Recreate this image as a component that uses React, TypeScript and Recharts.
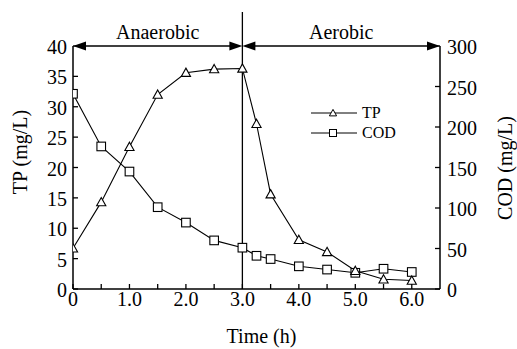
import { ComposedChart, Line, XAxis, YAxis, ReferenceLine, Legend } from "recharts";

const FONT = '"Liberation Serif", Times, "DejaVu Serif", serif';

// time (h)
const times = [0, 0.5, 1, 1.5, 2, 2.5, 3, 3.25, 3.5, 4, 4.5, 5, 5.5, 6];
// TP (mg/L), left axis
const tpValues = [6.7, 14.3, 23.4, 32.0, 35.6, 36.2, 36.3, 27.2, 15.6, 8.1, 6.1, 3.0, 1.6, 1.4];
// COD (mg/L), right axis
const codValues = [241, 176, 145, 101, 82, 60, 51, 41, 37, 28, 24, 20, 25, 21];

const xTicks = [0, 0.5, 1, 1.5, 2, 2.5, 3, 3.5, 4, 4.5, 5, 5.5, 6];
const tpTicks = [0, 5, 10, 15, 20, 25, 30, 35, 40];
const codTicks = [0, 50, 100, 150, 200, 250, 300];

const phases = [
  { name: "Anaerobic", from: 0, to: 3 },
  { name: "Aerobic", from: 3, to: 6.5 },
];

const data = times.map((t, i) => ({ t, tp: tpValues[i], cod: codValues[i] }));

const txt = { fontFamily: FONT, fontSize: 20, fill: "#000" };

const triPath = (cx: number, cy: number, r: number) =>
  `M${cx},${cy - r} L${cx + r},${cy + r * 0.8} L${cx - r},${cy + r * 0.8} Z`;

const TriDot = (props: any) => (
  <path key={`tp-${props.index}`} d={triPath(props.cx, props.cy, 4.6)} fill="#fff" stroke="#000" strokeWidth={1.1} />
);

const SqDot = (props: any) => (
  <rect key={`cod-${props.index}`} x={props.cx - 4.3} y={props.cy - 4.3} width={8.6} height={8.6} fill="#fff" stroke="#000" strokeWidth={1.1} />
);

const XTick = ({ x, y, payload }: any) => {
  const v = payload.value;
  const whole = Math.abs(v - Math.round(v)) < 1e-6;
  return (
    <g>
      <line x1={x} y1={y} x2={x} y2={y - 5} stroke="#000" strokeWidth={1.3} />
      {whole && (
        <text x={x} y={y + 17} textAnchor="middle" style={txt}>
          {v === 0 ? "0" : v.toFixed(1)}
        </text>
      )}
    </g>
  );
};

const LeftTick = ({ x, y, payload }: any) => (
  <g>
    <line x1={x} y1={y} x2={x + 5} y2={y} stroke="#000" strokeWidth={1.3} />
    <text x={x - 6} y={y + 8} textAnchor="end" style={txt}>
      {payload.value}
    </text>
  </g>
);

const RightTick = ({ x, y, payload }: any) => (
  <g>
    <line x1={x} y1={y} x2={x - 5} y2={y} stroke="#000" strokeWidth={1.3} />
    <text x={x + 7} y={y + 8} textAnchor="start" style={txt}>
      {payload.value}
    </text>
  </g>
);

const phaseArrow = (label: string) => (props: any) => {
  const { x1, y1, x2 } = props;
  const head = 13;
  const half = 4.5;
  return (
    <g>
      <line x1={x1 + head - 1} y1={y1} x2={x2 - head + 1} y2={y1} stroke="#000" strokeWidth={1.5} />
      <path d={`M${x1},${y1} L${x1 + head},${y1 - half} L${x1 + head},${y1 + half} Z`} fill="#000" />
      <path d={`M${x2},${y1} L${x2 - head},${y1 - half} L${x2 - head},${y1 + half} Z`} fill="#000" />
      <text x={(x1 + x2) / 2} y={y1 - 7} textAnchor="middle" style={txt}>
        {label}
      </text>
    </g>
  );
};

const legendItems = [
  { name: "TP", marker: "tri" },
  { name: "COD", marker: "sq" },
];

const renderLegend = () => (
  <div style={{ fontFamily: FONT, fontSize: 16, color: "#000" }}>
    {legendItems.map((item) => (
      <div key={item.name} style={{ display: "flex", alignItems: "center", height: 20 }}>
        <svg width={47} height={20}>
          <line x1={0} y1={10} x2={46} y2={10} stroke="#000" strokeWidth={1} />
          {item.marker === "tri" ? (
            <path d={triPath(22, 10, 3.6)} fill="#fff" stroke="#000" strokeWidth={1} />
          ) : (
            <rect x={18.5} y={6.5} width={7} height={7} fill="#fff" stroke="#000" strokeWidth={1} />
          )}
        </svg>
        <span style={{ marginLeft: 4 }}>{item.name}</span>
      </div>
    ))}
  </div>
);

export default function App() {
  return (
    <div style={{ position: "absolute", left: 0, top: 0, background: "#fff", fontFamily: FONT }}>
      <ComposedChart width={517} height={349} data={data} margin={{ top: 46, right: 0, bottom: 0, left: 0 }}>
        <XAxis
          dataKey="t"
          type="number"
          domain={[0, 6.5]}
          ticks={xTicks}
          allowDataOverflow
          height={60}
          axisLine={{ stroke: "#000", strokeWidth: 1.5 }}
          tickLine={false}
          tickSize={0}
          tickMargin={0}
          tick={<XTick />}
          interval={0}
          label={(p: any) => (
            <text x={p.viewBox.x + p.viewBox.width / 2 + 5} y={p.viewBox.y + 54} textAnchor="middle" style={txt}>
              Time (h)
            </text>
          )}
        />
        <YAxis
          yAxisId="left"
          orientation="left"
          domain={[0, 40]}
          ticks={tpTicks}
          width={73}
          axisLine={{ stroke: "#000", strokeWidth: 1.5 }}
          tickLine={false}
          tickSize={0}
          tickMargin={0}
          tick={<LeftTick />}
          interval={0}
          label={(p: any) => {
            const cx = p.viewBox.x + 20;
            const cy = p.viewBox.y + 106;
            return (
              <text x={cx} y={cy} transform={`rotate(-90, ${cx}, ${cy})`} textAnchor="middle" dominantBaseline="central" style={txt}>
                TP (mg/L)
              </text>
            );
          }}
        />
        <YAxis
          yAxisId="right"
          orientation="right"
          domain={[0, 300]}
          ticks={codTicks}
          width={77}
          axisLine={{ stroke: "#000", strokeWidth: 1.5 }}
          tickLine={false}
          tickSize={0}
          tickMargin={0}
          tick={<RightTick />}
          interval={0}
          label={(p: any) => {
            const cx = p.viewBox.x + 65;
            const cy = p.viewBox.y + 122;
            return (
              <text x={cx} y={cy} transform={`rotate(-90, ${cx}, ${cy})`} textAnchor="middle" dominantBaseline="central" style={txt}>
                COD (mg/L)
              </text>
            );
          }}
        />
        <ReferenceLine
          yAxisId="left"
          segment={[{ x: 3, y: 0 }, { x: 3, y: 45.6 }]}
          stroke="#000"
          strokeWidth={1.3}
          ifOverflow="visible"
        />
        {phases.map((ph) => (
          <ReferenceLine
            key={ph.name}
            yAxisId="left"
            segment={[{ x: ph.from, y: 40 }, { x: ph.to, y: 40 }]}
            ifOverflow="visible"
            shape={phaseArrow(ph.name)}
          />
        ))}
        <Line
          yAxisId="right"
          dataKey="cod"
          type="linear"
          stroke="#000"
          strokeWidth={1.1}
          dot={SqDot}
          activeDot={false}
          isAnimationActive={false}
        />
        <Line
          yAxisId="left"
          dataKey="tp"
          type="linear"
          stroke="#000"
          strokeWidth={1.1}
          dot={TriDot}
          activeDot={false}
          isAnimationActive={false}
        />
        <Legend
          layout="vertical"
          align="center"
          verticalAlign="middle"
          content={renderLegend}
          wrapperStyle={{ left: 311, top: 103, width: 110, height: 40 }}
        />
      </ComposedChart>
    </div>
  );
}
